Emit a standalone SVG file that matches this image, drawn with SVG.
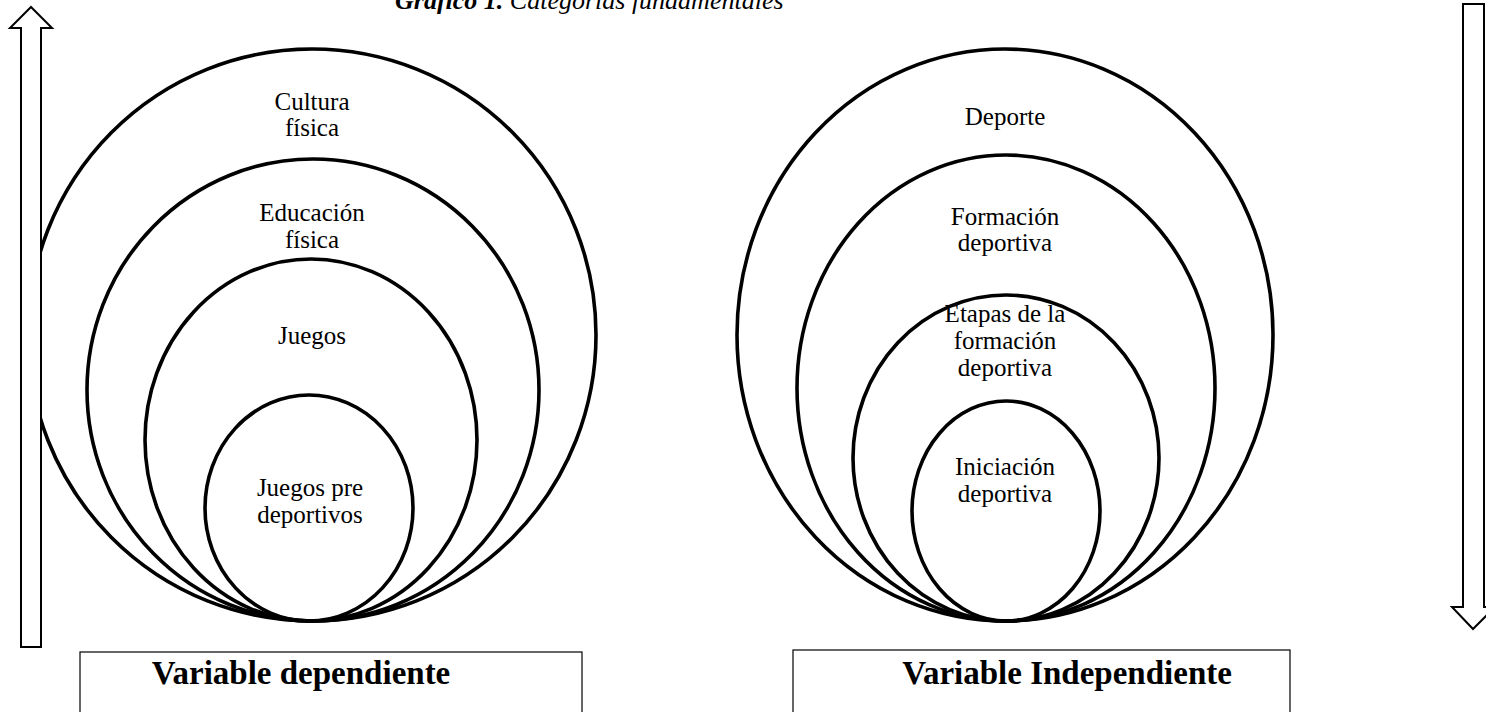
<svg xmlns="http://www.w3.org/2000/svg" width="1486" height="712" viewBox="0 0 1486 712">
<style>
.c{fill:none;stroke:#000;stroke-width:3.6}
.arr{fill:#fff;stroke:#000;stroke-width:2}
.box{fill:#fff;stroke:#000;stroke-width:1.2}
.t{font-family:"Liberation Serif","Times New Roman",serif;font-size:25px;text-anchor:middle;fill:#000}
.b{font-family:"Liberation Serif","Times New Roman",serif;font-size:33px;font-weight:bold;text-anchor:middle;fill:#000}
.ti{font-family:"Liberation Serif","Times New Roman",serif;font-size:26px;font-style:italic;fill:#000}
</style>
<rect width="1486" height="712" fill="#fff"/>
<text class="ti" x="395" y="9"><tspan font-weight="bold">Gráfico 1.</tspan> Categorías fundamentales</text>
<g id="left-circles">
<ellipse class="c" cx="312" cy="335" rx="284" ry="286"/>
<ellipse class="c" cx="313" cy="390" rx="226" ry="231"/>
<ellipse class="c" cx="311" cy="440" rx="166" ry="181"/>
<ellipse class="c" cx="309" cy="508" rx="104" ry="113"/>
</g>
<g id="n-cultura"><text class="t" x="312" y="110">Cultura</text><text class="t" x="312" y="136">física</text></g>
<g id="n-educacion"><text class="t" x="312" y="221">Educación</text><text class="t" x="312" y="248">física</text></g>
<g id="n-juegos"><text class="t" x="312" y="344">Juegos</text></g>
<g id="n-juegospre"><text class="t" x="310" y="496">Juegos pre</text><text class="t" x="310" y="523">deportivos</text></g>
<g id="right-circles">
<ellipse class="c" cx="1005" cy="335" rx="268" ry="286"/>
<ellipse class="c" cx="1006" cy="388" rx="209" ry="233"/>
<ellipse class="c" cx="1006" cy="458" rx="153" ry="163"/>
<ellipse class="c" cx="1006" cy="511" rx="94" ry="110"/>
</g>
<g id="n-deporte"><text class="t" x="1005" y="125">Deporte</text></g>
<g id="n-formacion"><text class="t" x="1005" y="225">Formación</text><text class="t" x="1005" y="251">deportiva</text></g>
<g id="n-etapas"><text class="t" x="1005" y="322">Etapas de la</text><text class="t" x="1005" y="349">formación</text><text class="t" x="1005" y="376">deportiva</text></g>
<g id="n-iniciacion"><text class="t" x="1005" y="475">Iniciación</text><text class="t" x="1005" y="502">deportiva</text></g>
<g id="connectors">
<polygon class="arr" points="31,7 52,28 41,28 41,647 21,647 21,28 10,28"/>
<polygon class="arr" points="1463,4 1484,4 1484,607 1495,607 1473,629 1452,607 1463,607"/>
</g>
<g id="box-dep"><rect class="box" x="80" y="652" width="502" height="70"/><text class="b" x="301" y="684">Variable dependiente</text></g>
<g id="box-indep"><rect class="box" x="793" y="650" width="497" height="70"/><text class="b" x="1067" y="684">Variable Independiente</text></g>
</svg>
